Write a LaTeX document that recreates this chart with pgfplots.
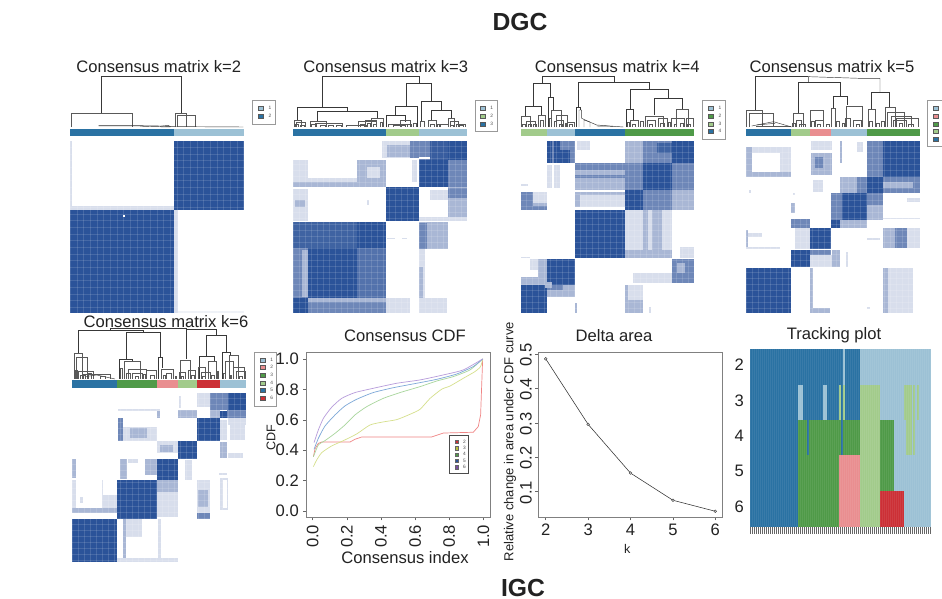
\documentclass[border=0pt]{standalone}
\usepackage{fontspec}
\setmainfont{Liberation Sans}
\usepackage{pgfplots}
\pgfplotsset{compat=1.18}
\definecolor{MD}{HTML}{2B5399}
\definecolor{MM}{HTML}{6E87B8}
\definecolor{ML}{HTML}{A9B7D5}
\definecolor{MV}{HTML}{D8DEEC}
\definecolor{cD}{HTML}{2A72A3}
\definecolor{cB}{HTML}{9CC1D5}
\definecolor{cG}{HTML}{4F9A48}
\definecolor{cL}{HTML}{A2CB8B}
\definecolor{cP}{HTML}{E98E90}
\definecolor{cR}{HTML}{CC3036}
\definecolor{ink}{HTML}{222222}
\definecolor{lnR}{HTML}{F08585}
\definecolor{lnY}{HTML}{D6E08C}
\definecolor{lnG}{HTML}{A8D69C}
\definecolor{lnB}{HTML}{7DA8D8}
\definecolor{lnP}{HTML}{B79CDB}
\definecolor{swY}{HTML}{B9BF3C}
\definecolor{swP}{HTML}{7B4FA0}
\newcommand\fa{\fontsize{16.6}{18}\selectfont}
\newcommand\fb{\fontsize{12.6}{14}\selectfont}
\newcommand\fl{\fontsize{4.8}{5}\selectfont}
\newcommand\R[5]{\addplot[draw=none,fill=#5,forget plot] coordinates {(#1,#2)(#3,#2)(#3,#4)(#1,#4)} -- cycle;}
\def\dbot{231}
\newcommand\Dn[1]{\addplot[color=black!78,line width=.45pt,forget plot] coordinates {#1};}
\newcommand\U[3]{\addplot[color=black!65,line width=.4pt,forget plot] coordinates {(#1,\dbot)(#1,#3)(#2,#3)(#2,\dbot)};}
\newcommand\LegBox[4]{\draw[black!40,line width=.7pt,fill=white] (axis cs:#1,#2) rectangle (axis cs:#3,#4);}
\newcommand\LegS[3]{\draw[black!65,line width=.3pt,fill=#3] (axis cs:#1,#2-6) rectangle (axis cs:#1+14,#2+6);}
\newcommand\LegI[4]{\LegS{#1}{#2}{#3}
  \node[text=black!70,font=\fl,inner sep=0pt] at (axis cs:#1+35,#2) {#4};}
\newcommand\LegC[3]{\draw[black!60,line width=.25pt,fill=#2] (axis cs:.832,#1-.011) rectangle (axis cs:.855,#1+.011);
  \node[text=black!70,font=\fl,inner sep=0pt] at (axis cs:.889,#1) {#3};}
\pgfplotsset{panel/.style={scale only axis,anchor=south west,y dir=reverse,clip=false,axis on top,
  axis line style={draw=none},major tick length=0pt,xticklabel=\empty,yticklabel=\empty,grid=major,
  grid style={white,opacity=.13,line width=.4pt}}}
\begin{document}
\begin{tikzpicture}
\useasboundingbox (0,0) rectangle (942pt,599pt);
\fill[white] (0,0) rectangle (942pt,599pt);
\clip (0,0) rectangle (942pt,599pt);

% ---------- k=2
\begin{axis}[panel,at={(70.33pt,286.33pt)},width=173.67pt,height=172pt,xmin=211,xmax=732,ymin=272,ymax=788,
  xtick={211,231,...,732},ytick={272,292,...,788}]
\R{211}{272}{216}{470}{MV}
\R{211}{468}{523}{480}{MV}
\R{523}{480}{533}{788}{MV}
\R{533}{782}{732}{788}{MV!40}
\R{523}{272}{732}{480}{MD}
\R{211}{480}{523}{788}{MD}
\R{370}{496}{375}{501}{white}
\R{211}{236}{523}{259}{cD}
\R{523}{236}{732}{259}{cB}
\Dn{(305,190)(305,80)(543,80)(543,190)}
\U{214}{397}{190}
\U{527}{560}{190}
\U{532}{586}{195}
\Dn{(296,227)(420,227)(480,228)(500,229)(560,230)(730,231)}
\Dn{(296,228)(420,228)(430,229)(510,231)}
\Dn{(480,229)(505,226)(512,231)}
\LegBox{758}{152}{826}{222}
\LegI{775}{174}{cB}{1}
\LegI{775}{198}{cD}{2}
\end{axis}

% ---------- k=3
\begin{axis}[panel,at={(293pt,286.33pt)},width=173.67pt,height=172pt,xmin=879,xmax=1400,ymin=272,ymax=788,
  xtick={879,897,...,1400},ytick={272,290,...,788}]
\R{1147}{272}{1258}{325}{MV}
\R{1160}{285}{1230}{320}{ML}
\R{1230}{272}{1258}{325}{MM}
\R{1258}{272}{1400}{330}{MM}
\R{1290}{272}{1345}{330}{MD!80!MM}
\R{1345}{272}{1400}{330}{MD}
\R{1258}{330}{1345}{410}{MD}
\R{1345}{330}{1400}{410}{MM}
\R{1258}{322}{1290}{328}{white}
\R{879}{330}{925}{412}{MV}
\R{925}{385}{1072}{412}{MV}
\R{879}{397}{1157}{412}{ML}
\R{1072}{330}{1157}{397}{ML}
\R{1100}{350}{1140}{385}{MV}
\R{1235}{330}{1250}{395}{MV}
\R{879}{418}{925}{512}{MV}
\R{885}{450}{915}{470}{ML}
\R{1100}{450}{1106}{465}{MV}
\R{1157}{412}{1258}{512}{MD}
\R{1290}{420}{1345}{450}{MV}
\R{1345}{410}{1400}{510}{ML}
\R{1345}{415}{1400}{445}{MM}
\R{1258}{500}{1400}{512}{MV}
\R{879}{515}{1157}{788}{MM}
\R{925}{595}{1072}{745}{MD}
\R{1072}{515}{1157}{595}{MD}
\R{925}{515}{1072}{595}{MD!70!MM}
\R{879}{515}{925}{595}{MD!70!MM}
\R{879}{745}{925}{788}{MD}
\R{905}{600}{925}{740}{ML}
\R{925}{745}{1157}{788}{MM}
\R{925}{745}{1157}{755}{ML}
\R{1072}{595}{1157}{745}{MD!40!MM}
\R{1258}{515}{1345}{598}{ML}
\R{1258}{520}{1280}{598}{MM}
\R{1258}{598}{1275}{788}{MV}
\R{1258}{650}{1270}{745}{ML}
\R{1158}{745}{1230}{788}{MV}
\R{1258}{745}{1340}{788}{MV}
\R{1160}{563}{1185}{567}{MV}
\R{1205}{563}{1220}{567}{MV}
\R{879}{236}{1157}{259}{cD}
\R{1157}{236}{1258}{259}{cL}
\R{1258}{236}{1400}{259}{cB}
\Dn{(967,172)(967,80)(1258,80)(1258,100)}
\Dn{(1220,170)(1220,100)(1295,100)(1295,155)}
\Dn{(893,212)(893,172)(1043,172)(1043,185)}
\Dn{(953,215)(953,185)(1133,185)(1133,205)}
\Dn{(1187,195)(1187,170)(1252,170)(1252,231)}
\Dn{(1160,231)(1160,195)(1215,195)(1215,215)}
\Dn{(1265,212)(1265,155)(1325,155)(1325,180)}
\Dn{(1295,212)(1295,180)(1355,180)(1355,205)}
\U{1345}{1362}{205}
\U{1115}{1150}{205}
\U{882}{905}{212}
\U{890}{915}{218}
\U{930}{980}{215}
\U{945}{1028}{220}
\U{1075}{1130}{215}
\U{1095}{1130}{212}
\U{1165}{1235}{222}
\U{1200}{1230}{212}
\U{1262}{1272}{215}
\U{1285}{1310}{212}
\U{1320}{1345}{222}
\U{1350}{1375}{215}
\U{1370}{1395}{222}
\U{1180}{1215}{226}
\U{1040}{1100}{226}
\U{885}{895}{222}
\U{900}{912}{225}
\U{935}{950}{224}
\U{960}{975}{226}
\U{985}{1000}{225}
\U{1010}{1025}{227}
\U{1082}{1092}{222}
\U{1102}{1112}{220}
\U{1120}{1128}{224}
\U{1140}{1148}{218}
\U{1205}{1222}{222}
\U{1240}{1248}{220}
\U{1290}{1302}{222}
\U{1312}{1318}{224}
\U{1352}{1360}{225}
\U{1378}{1390}{226}
\LegBox{1425}{152}{1492}{244}
\LegI{1440}{174}{cB}{1}
\LegI{1440}{198}{cL}{2}
\LegI{1440}{221}{cD}{3}
\end{axis}

% ---------- k=4
\begin{axis}[panel,at={(520.67pt,286.33pt)},width=173.67pt,height=172pt,xmin=122,xmax=643,ymin=272,ymax=788,
  xtick={122,140,...,643},ytick={272,290,...,788}]
\R{202}{272}{286}{340}{MM}
\R{202}{272}{215}{340}{MD}
\R{222}{300}{270}{340}{MD}
\R{222}{272}{240}{300}{MD}
\R{290}{272}{330}{300}{MV}
\R{434}{272}{575}{340}{ML}
\R{490}{272}{575}{340}{MM}
\R{530}{280}{575}{310}{MD!70!MM}
\R{575}{272}{643}{340}{MD}
\R{200}{345}{240}{415}{MV}
\R{215}{345}{222}{415}{white}
\R{122}{402}{145}{407}{MV}
\R{286}{340}{434}{420}{ML}
\R{286}{340}{434}{360}{MM}
\R{286}{375}{434}{385}{MM}
\R{286}{425}{434}{470}{MV}
\R{286}{425}{434}{435}{ML}
\R{286}{425}{300}{470}{ML}
\R{434}{340}{490}{420}{MM}
\R{490}{340}{575}{420}{MD}
\R{575}{340}{643}{420}{MM}
\R{434}{420}{490}{480}{MD}
\R{490}{420}{575}{480}{MM}
\R{575}{420}{643}{480}{ML}
\R{122}{425}{202}{480}{ML}
\R{160}{425}{202}{460}{MV}
\R{122}{425}{160}{475}{MM}
\R{122}{468}{202}{480}{MM}
\R{286}{480}{434}{625}{MD}
\R{434}{480}{575}{625}{MV}
\R{490}{480}{545}{600}{ML}
\R{505}{480}{515}{600}{MV}
\R{434}{600}{575}{625}{ML}
\R{600}{590}{643}{625}{MV}
\R{150}{628}{202}{660}{MV}
\R{175}{628}{202}{680}{ML}
\R{202}{628}{286}{705}{MD}
\R{202}{705}{286}{740}{ML}
\R{202}{705}{250}{720}{MM}
\R{122}{680}{202}{705}{ML}
\R{122}{705}{202}{788}{MD}
\R{196}{696}{216}{714}{ML}
\R{122}{620}{150}{625}{MV}
\R{575}{628}{643}{700}{MM}
\R{590}{640}{615}{670}{ML}
\R{460}{670}{575}{700}{MV}
\R{434}{705}{490}{788}{MV}
\R{434}{705}{445}{788}{ML}
\R{445}{750}{490}{788}{ML}
\R{286}{760}{292}{788}{ML}
\R{508}{770}{514}{788}{MV}
\R{122}{236}{202}{259}{cL}
\R{202}{236}{286}{259}{cB}
\R{286}{236}{434}{259}{cD}
\R{434}{236}{643}{259}{cG}
\Dn{(160,170)(160,100)(212,100)(212,143)}
\Dn{(187,100)(187,80)(402,80)(402,97)}
\Dn{(295,172)(295,97)(508,97)(508,118)}
\Dn{(450,178)(450,118)(565,118)(565,145)}
\Dn{(523,195)(523,145)(608,145)(608,178)}
\Dn{(137,200)(137,170)(183,170)(183,195)}
\Dn{(205,231)(205,143)(220,143)(220,182)}
\U{215}{245}{182}
\U{230}{262}{195}
\Dn{(290,231)(290,172)(300,172)(300,180)}
\Dn{(297,231)(297,180)(305,180)(305,205)(320,212)(350,225)(430,231)}
\Dn{(312,231)(312,210)(330,216)(330,231)}
\Dn{(350,228)(400,229)}
\Dn{(438,231)(438,178)(460,178)(460,210)}
\U{452}{475}{210}
\U{590}{626}{178}
\U{495}{550}{200}
\U{503}{525}{212}
\U{535}{562}{205}
\U{575}{612}{205}
\U{618}{640}{205}
\U{125}{150}{200}
\U{140}{165}{215}
\U{175}{195}{195}
\U{180}{190}{212}
\U{230}{250}{212}
\U{262}{284}{218}
\U{128}{135}{222}
\U{145}{155}{222}
\U{160}{170}{224}
\U{208}{213}{205}
\U{222}{228}{215}
\U{238}{246}{222}
\U{255}{260}{220}
\U{268}{276}{224}
\U{442}{449}{218}
\U{458}{466}{222}
\U{482}{490}{215}
\U{508}{518}{222}
\U{540}{552}{220}
\U{566}{572}{218}
\U{582}{590}{222}
\U{600}{610}{220}
\U{622}{632}{222}
\LegBox{667}{152}{736}{268}
\LegI{685}{174}{cB}{1}
\LegI{685}{198}{cG}{2}
\LegI{685}{221}{cL}{3}
\LegI{685}{244}{cD}{4}
\end{axis}

% ---------- k=5
\begin{axis}[panel,at={(746pt,286.33pt)},width=173.67pt,height=172pt,xmin=798,xmax=1319,ymin=272,ymax=788,
  xtick={798,816,...,1319},ytick={272,290,...,788}]
\R{1160}{272}{1210}{380}{MM}
\R{1210}{272}{1319}{380}{MD}
\R{1080}{272}{1085}{340}{ML}
\R{992}{272}{1055}{300}{MV}
\R{992}{310}{1055}{375}{ML}
\R{1005}{320}{1030}{355}{MM}
\R{1130}{275}{1150}{305}{MV}
\R{815}{290}{933}{310}{MV}
\R{900}{310}{933}{365}{MV}
\R{798}{290}{815}{380}{ML}
\R{798}{365}{933}{380}{ML}
\R{1000}{390}{1030}{425}{MV}
\R{1080}{380}{1130}{430}{ML}
\R{1130}{380}{1160}{430}{MM}
\R{1160}{380}{1210}{430}{MD}
\R{1210}{380}{1319}{430}{MM}
\R{1210}{395}{1300}{415}{ML}
\R{808}{420}{814}{430}{MV}
\R{938}{430}{944}{436}{MV}
\R{1053}{430}{1085}{510}{MM}
\R{1085}{430}{1160}{510}{MD}
\R{1160}{430}{1210}{465}{MM}
\R{1160}{465}{1210}{510}{ML}
\R{1280}{445}{1319}{455}{MV}
\R{933}{460}{945}{490}{ML}
\R{1210}{503}{1319}{508}{MV}
\R{1053}{510}{1080}{535}{MD}
\R{1080}{510}{1160}{535}{ML}
\R{933}{508}{989}{535}{MM}
\R{945}{535}{989}{598}{MV}
\R{989}{535}{1053}{598}{MD}
\R{798}{540}{805}{598}{ML}
\R{805}{550}{845}{560}{MV}
\R{798}{590}{900}{598}{MV}
\R{1160}{565}{1200}{570}{MV}
\R{1210}{535}{1319}{595}{MV}
\R{1210}{535}{1280}{595}{ML}
\R{1245}{535}{1280}{595}{MM}
\R{933}{600}{989}{652}{MD}
\R{989}{615}{1080}{652}{MV}
\R{1055}{600}{1080}{652}{ML}
\R{989}{600}{1053}{615}{MM}
\R{1097}{605}{1103}{650}{MV}
\R{798}{655}{933}{788}{MD}
\R{990}{655}{1000}{788}{ML}
\R{990}{775}{1050}{788}{ML}
\R{1210}{655}{1300}{788}{MV}
\R{1210}{655}{1225}{788}{ML}
\R{1160}{770}{1170}{778}{MV}
\R{798}{236}{933}{259}{cD}
\R{933}{236}{989}{259}{cL}
\R{989}{236}{1053}{259}{cP}
\R{1053}{236}{1160}{259}{cB}
\R{1160}{236}{1319}{259}{cG}
\Dn{(825,180)(825,80)(985,80)}
\Dn{(985,97)(985,80)(1140,85)(1200,85)(1200,128)}
\Dn{(955,190)(955,97)(1082,97)(1082,140)}
\Dn{(1060,175)(1060,140)(1103,140)(1103,165)}
\Dn{(1175,178)(1175,128)(1229,128)(1229,172)}
\U{800}{848}{180}
\U{808}{880}{190}
\U{830}{930}{228}
\Dn{(815,228)(880,215)(935,231)}
\Dn{(830,225)(885,220)}
\U{992}{1030}{182}
\U{940}{970}{190}
\U{948}{965}{212}
\U{1005}{1030}{212}
\U{1055}{1065}{175}
\U{1100}{1148}{168}
\U{1095}{1110}{205}
\U{1120}{1145}{212}
\U{1165}{1187}{178}
\U{1215}{1245}{172}
\U{1222}{1272}{187}
\U{1235}{1295}{198}
\U{1250}{1315}{205}
\U{1240}{1280}{212}
\U{938}{945}{220}
\U{958}{975}{222}
\U{995}{1003}{215}
\U{1012}{1022}{222}
\U{1040}{1048}{222}
\U{1070}{1078}{215}
\U{1088}{1094}{220}
\U{1128}{1138}{222}
\U{1168}{1176}{215}
\U{1190}{1198}{220}
\U{1205}{1212}{215}
\U{1258}{1268}{220}
\U{1285}{1300}{222}
\LegBox{1342}{152}{1420}{290}
\LegS{1360}{174}{cB}
\LegS{1360}{198}{cP}
\LegS{1360}{221}{cG}
\LegS{1360}{244}{cL}
\LegS{1360}{267}{cD}
\end{axis}

% ---------- k=6
\def\dbot{207}
\begin{axis}[panel,at={(72.33pt,36.67pt)},width=173.33pt,height=169.67pt,xmin=37,xmax=557,ymin=248,ymax=757,
  xtick={37,55,...,557},ytick={248,266,...,757}]
\R{410}{250}{450}{290}{MV}
\R{450}{248}{505}{300}{MM}
\R{505}{248}{557}{300}{MD}
\R{450}{300}{480}{325}{ML}
\R{480}{303}{502}{325}{MD}
\R{502}{300}{557}{325}{MM}
\R{505}{325}{557}{345}{MV}
\R{358}{258}{364}{295}{MV}
\R{355}{300}{410}{325}{ML}
\R{175}{297}{300}{303}{MV}
\R{292}{303}{300}{325}{ML}
\R{410}{325}{479}{392}{MD}
\R{479}{330}{500}{390}{MV}
\R{510}{345}{555}{390}{MV}
\R{173}{325}{190}{392}{MM}
\R{190}{350}{290}{392}{MV}
\R{210}{355}{260}{385}{ML}
\R{291}{392}{354}{428}{MV}
\R{300}{405}{340}{425}{ML}
\R{354}{392}{410}{448}{MD}
\R{479}{395}{500}{445}{ML}
\R{505}{430}{550}{445}{MV}
\R{37}{448}{48}{505}{ML}
\R{180}{448}{200}{508}{ML}
\R{205}{448}{235}{458}{MV}
\R{255}{448}{290}{495}{ML}
\R{291}{448}{354}{510}{MD}
\R{375}{450}{395}{510}{MV}
\R{478}{490}{500}{495}{MV}
\R{480}{503}{505}{600}{MV}
\R{488}{510}{500}{595}{white}
\R{172}{510}{291}{628}{MD}
\R{291}{510}{354}{545}{ML}
\R{291}{545}{354}{620}{MV}
\R{37}{510}{48}{610}{MV}
\R{37}{595}{172}{610}{ML}
\R{130}{555}{172}{595}{MV}
\R{125}{510}{130}{595}{MV}
\R{60}{560}{68}{580}{MV}
\R{410}{510}{450}{610}{MV}
\R{415}{540}{445}{590}{ML}
\R{410}{610}{450}{628}{MM}
\R{37}{628}{172}{757}{MD}
\R{195}{628}{245}{680}{MV}
\R{190}{628}{198}{757}{ML}
\R{172}{745}{354}{757}{MV}
\R{295}{628}{302}{757}{MV}
\R{37}{211}{172}{233}{cD}
\R{172}{211}{291}{233}{cG}
\R{291}{211}{354}{233}{cP}
\R{354}{211}{410}{233}{cL}
\R{410}{211}{479}{233}{cR}
\R{479}{211}{557}{233}{cB}
\Dn{(55,130)(55,62)(250,62)(250,68)}
\Dn{(152,62)(152,54)(378,54)(378,148)}
\Dn{(378,58)(470,58)(470,75)}
\Dn{(200,150)(200,68)(300,68)(300,140)}
\Dn{(440,140)(440,75)(500,75)(500,125)}
\U{42}{67}{130}
\U{50}{82}{142}
\U{55}{100}{185}
\U{70}{150}{192}
\Dn{(75,200)(110,195)(165,207)}
\Dn{(178,207)(178,148)(218,148)(218,155)}
\U{192}{240}{155}
\U{182}{188}{175}
\U{205}{260}{178}
\U{218}{248}{190}
\U{260}{290}{182}
\Dn{(295,207)(295,142)(307,142)(307,175)}
\U{303}{340}{178}
\U{318}{335}{190}
\U{362}{392}{150}
\U{358}{375}{188}
\U{385}{405}{180}
\Dn{(418,207)(418,140)(462,140)(462,155)}
\U{415}{435}{172}
\U{445}{470}{155}
\U{425}{450}{188}
\Dn{(488,207)(488,128)(512,128)(512,135)}
\U{507}{535}{135}
\U{497}{520}{155}
\U{520}{552}{172}
\U{530}{555}{185}
\U{45}{52}{180}
\U{62}{75}{195}
\U{85}{95}{190}
\U{120}{135}{198}
\U{200}{212}{190}
\U{225}{235}{198}
\U{250}{256}{192}
\U{272}{284}{195}
\U{310}{316}{195}
\U{345}{350}{198}
\U{365}{370}{198}
\U{395}{402}{195}
\U{428}{436}{198}
\U{455}{462}{195}
\U{472}{476}{185}
\U{490}{495}{190}
\U{510}{515}{195}
\U{538}{548}{198}
\LegBox{583}{127}{650}{289}
\LegI{600}{149}{cB}{1}
\LegI{600}{172}{cP}{2}
\LegI{600}{195}{cG}{3}
\LegI{600}{218}{cL}{4}
\LegI{600}{241}{cD}{5}
\LegI{600}{264}{cR}{6}
\end{axis}

% ---------- CDF
\begin{axis}[scale only axis,anchor=south west,at={(306.3pt,81.7pt)},width=183.7pt,height=164.6pt,
  xmin=-0.0375,xmax=1.039,ymin=-0.041,ymax=1.041,
  axis line style={black!50,line width=.7pt},tick style={black!60,line width=.5pt},
  tick align=outside,major tick length=3pt,xtick pos=lower,ytick pos=left,
  xtick={0,0.2,0.4,0.6,0.8,1},ytick={0,0.2,0.4,0.6,0.8,1},
  /pgf/number format/assume math mode=true,
  /pgf/number format/fixed,/pgf/number format/fixed zerofill,/pgf/number format/precision=1,
  tick label style={font=\fa,text=ink},xticklabel style={rotate=90,anchor=east,xshift=-1pt},
  yticklabel style={xshift=-1pt}]
\addplot[color=lnR,line width=.7pt] coordinates {(0.004,.357)(0.014,.41)(0.033,.445)(0.053,.454)(0.16,.454)(0.219,.454)(0.248,.472)(0.287,.487)(0.473,.487)(0.697,.487)(0.766,.513)(0.941,.518)(0.97,.555)(0.984,.632)(0.99,.818)(0.996,1.0)};
\addplot[smooth,tension=.35,color=lnY,line width=.7pt] coordinates {(.004,.292)(.023,.335)(.053,.384)(.111,.428)(.18,.463)(.258,.507)(.336,.566)(.414,.586)(.492,.601)(.57,.636)(.629,.669)(.688,.741)(.756,.801)(.805,.822)(.883,.873)(.951,.917)(.984,.95)(.996,1.0)};
\addplot[smooth,tension=.35,color=lnG,line width=.7pt] coordinates {(.004,.357)(.033,.434)(.072,.463)(.131,.511)(.189,.566)(.248,.632)(.316,.686)(.414,.741)(.512,.779)(.629,.818)(.727,.855)(.824,.884)(.922,.928)(.996,1.0)};
\addplot[smooth,tension=.35,color=lnB,line width=.7pt] coordinates {(.008,.406)(.033,.478)(.072,.559)(.131,.632)(.189,.691)(.258,.735)(.355,.779)(.473,.811)(.609,.84)(.727,.866)(.844,.901)(.941,.95)(.996,1.0)};
\addplot[smooth,tension=.35,color=lnP,line width=.7pt] coordinates {(.008,.45)(.033,.533)(.063,.61)(.111,.682)(.17,.741)(.248,.779)(.355,.807)(.492,.84)(.629,.862)(.766,.895)(.883,.928)(.996,1.0)};
\draw[black!70,line width=.6pt,fill=white] (axis cs:.80,.5) rectangle (axis cs:.912,.246);
\LegC{.456}{cR}{2}
\LegC{.414}{swY}{3}
\LegC{.373}{cG}{4}
\LegC{.331}{MD}{5}
\LegC{.289}{swP}{6}
\end{axis}

% ---------- Delta
\begin{axis}[scale only axis,anchor=south west,at={(538.3pt,81.7pt)},width=184pt,height=165pt,
  xmin=1.825,xmax=6.165,ymin=.0255,ymax=.505,
  axis line style={black!50,line width=.7pt},tick style={black!60,line width=.5pt},
  tick align=outside,major tick length=3pt,xtick pos=lower,ytick pos=left,
  xtick={2,3,4,5,6},ytick={.1,.2,.3,.4,.5},
  /pgf/number format/assume math mode=true,
  /pgf/number format/fixed,/pgf/number format/precision=1,
  tick label style={font=\fa,text=ink},yticklabel style={rotate=90,anchor=south,xshift=-1pt}]
\addplot[color=black!80,line width=.55pt,mark=*,mark size=1.4pt,mark options={draw=black!80,fill=black!20,line width=.35pt}]
  coordinates {(2,.486)(3,.2956)(4,.154)(5,.075)(6,.043)};
\end{axis}

% ---------- Tracking plot
\begin{axis}[panel,at={(750.33pt,72.33pt)},width=180.67pt,height=177.33pt,xmin=91,xmax=633,ymin=88,ymax=620,
  xtick={91,97,...,633},ytick={141,247,353,460,567},
  ytick style={draw=none},xtick style={black!60,line width=.3pt},major tick length=7pt,tick align=outside,
  ymajorgrids=false,xmajorgrids=true,grid style={white,opacity=.07,line width=.5pt},
  yticklabel={\pgfmathparse{int(round((\tick-141)/106)+2)}\pgfmathresult},
  xtick pos=lower,ytick pos=left,
  yticklabel style={font=\fa,text=ink,xshift=4pt,yshift=2pt}]
\R{91}{88}{420}{620}{cD}
\R{420}{88}{633}{620}{cB}
\R{368}{88}{375}{195}{cB}
\R{233}{195}{250}{300}{cB}
\R{309}{195}{321}{300}{cB}
\R{356}{195}{362}{300}{cL}
\R{368}{195}{375}{300}{cL}
\R{420}{195}{480}{300}{cL}
\R{551}{195}{575}{300}{cL}
\R{580}{195}{586}{300}{cL}
\R{592}{195}{598}{300}{cL}
\R{233}{300}{420}{406}{cG}
\R{262}{300}{268}{406}{cD}
\R{362}{300}{368}{406}{cD}
\R{420}{300}{480}{406}{cL}
\R{480}{300}{521}{406}{cG}
\R{557}{300}{575}{406}{cL}
\R{580}{300}{586}{406}{cL}
\R{233}{406}{356}{620}{cG}
\R{356}{406}{420}{620}{cP}
\R{420}{406}{480}{620}{cL}
\R{480}{406}{521}{514}{cG}
\R{480}{514}{551}{620}{cR}
\end{axis}

% ---------- text set at pixel positions
\begin{scope}[shift={(0pt,599pt)},x=1pt,y=-1pt]
\tikzset{every node/.style={text=ink,inner sep=0pt}}
\node[font=\fontsize{24.7}{26}\selectfont\bfseries] at (520,22) {DGC};
\node[font=\fontsize{24.7}{26}\selectfont\bfseries] at (523,588) {IGC};
\node[font=\fa] at (158.7,66.7) {Consensus matrix k=2};
\node[font=\fa] at (385.7,66.7) {Consensus matrix k=3};
\node[font=\fa] at (617.3,66.7) {Consensus matrix k=4};
\node[font=\fa] at (832,66.7) {Consensus matrix k=5};
\node[font=\fa] at (166,321.7) {Consensus matrix k=6};
\node[font=\fa] at (405,336) {Consensus CDF};
\node[font=\fa] at (614,336) {Delta area};
\node[font=\fa] at (834,335) {Tracking plot};
\node[font=\fa] at (405,558) {Consensus index};
\node[font=\fb,rotate=90] at (271,438) {CDF};
\node[font=\fontsize{13}{14}\selectfont,rotate=90] at (510,441.7) {Relative change in area under CDF curve};
\node[font=\fb] at (627.3,549.3) {k};
\end{scope}
\end{tikzpicture}
\end{document}
